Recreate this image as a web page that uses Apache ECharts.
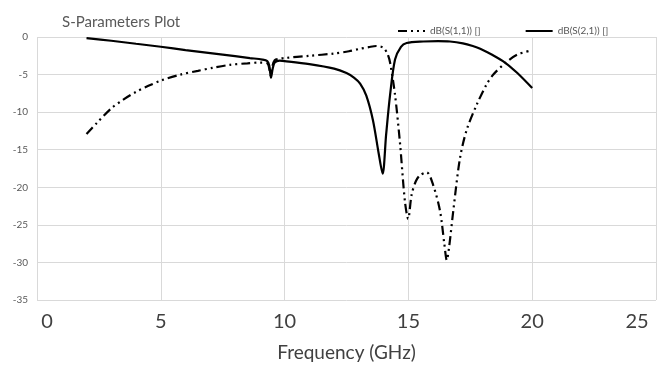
<!DOCTYPE html>
<html>
<head>
<meta charset="utf-8">
<script src="https://cdn.jsdelivr.net/npm/echarts@6/dist/echarts.min.js"></script>
<style>
html,body{margin:0;padding:0;background:#fff;}
#chart{width:659px;height:367px;}
</style>
</head>
<body>
<div id="chart"></div>
<script>
// S11 (dash-dot-dot)
var s11Freq = [2.0, 2.4, 3.0, 3.5, 4.0, 4.5, 5.0, 5.8, 6.5, 7.1, 7.8, 8.5, 9.0, 9.3, 9.4, 9.45, 9.5, 9.6, 9.8, 10.0, 11.0, 12.0, 12.6, 13.0, 13.4, 13.7, 13.9, 14.0, 14.15, 14.26, 14.46, 14.66, 14.86, 14.99, 15.13, 15.3, 15.47, 15.74, 16.0, 16.28, 16.45, 16.55, 16.65, 16.81, 17.08, 17.35, 17.76, 18.16, 18.43, 18.9, 19.4, 20.0];
var s11Db   = [-12.9, -11.5, -9.5, -8.3, -7.3, -6.5, -5.8, -5.0, -4.5, -4.1, -3.7, -3.5, -3.4, -3.5, -4.5, -5.2, -4.0, -3.1, -2.9, -2.8, -2.5, -2.2, -1.9, -1.6, -1.35, -1.2, -1.3, -1.45, -2.2, -3.4, -7.7, -14.1, -21.9, -24.2, -21.0, -19.2, -18.4, -18.0, -19.7, -23.2, -27.5, -29.7, -27.8, -23.2, -16.2, -12.4, -9.0, -6.3, -5.0, -3.5, -2.35, -1.75];
// S21 (solid)
var s21Freq = [2.0, 3.0, 4.0, 5.0, 6.0, 7.0, 8.0, 8.6, 9.1, 9.3, 9.38, 9.45, 9.52, 9.6, 9.8, 10.0, 11.0, 12.0, 12.5, 12.8, 13.05, 13.3, 13.57, 13.8, 13.96, 14.1, 14.26, 14.46, 14.7, 14.93, 15.6, 16.2, 16.68, 17.2, 17.6, 17.9, 18.4, 18.9, 19.4, 20.0];
var s21Db   = [-0.15, -0.5, -0.9, -1.3, -1.75, -2.15, -2.55, -2.8, -3.0, -3.2, -3.8, -5.4, -4.2, -3.4, -3.15, -3.2, -3.6, -4.2, -4.8, -5.4, -6.2, -7.8, -11.1, -15.5, -18.2, -13.0, -7.7, -3.0, -1.3, -0.8, -0.6, -0.55, -0.6, -0.85, -1.2, -1.55, -2.4, -3.4, -4.8, -6.8];

var seriesNames = ['dB(S(1,1)) []', 'dB(S(2,1)) []'];
var xTicks = [0, 5, 10, 15, 20, 25];
var yTicks = [0, -5, -10, -15, -20, -25, -30, -35];

function pairs(xs, ys) { return xs.map(function (x, i) { return [x, ys[i]]; }); }

var FONT = 'Lato';
var chart = echarts.init(document.getElementById('chart'), null, {renderer: 'canvas'});
chart.setOption({
  animation: false,
  backgroundColor: '#ffffff',
  title: {
    text: 'S-Parameters Plot',
    left: 57, top: 10,
    textStyle: {fontFamily: FONT, fontSize: 15, fontWeight: 'normal', color: '#595959'}
  },
  legend: {
    left: 392, top: 21,
    itemWidth: 27, itemHeight: 10, itemGap: 44,
    itemStyle: {opacity: 0},
    textStyle: {fontFamily: FONT, fontSize: 10, color: '#595959'},
    data: seriesNames
  },
  grid: {left: 37, right: 3, top: 37, bottom: 58, containLabel: false},
  xAxis: {
    type: 'value', min: xTicks[0], max: xTicks[xTicks.length - 1], interval: 5,
    name: 'Frequency (GHz)', nameLocation: 'middle', nameGap: 43,
    nameTextStyle: {fontFamily: FONT, fontSize: 19, color: '#404040'},
    axisLine: {show: false}, axisTick: {show: false},
    axisLabel: {
      fontFamily: FONT, fontSize: 20, color: '#404040', margin: 12,
      formatter: function (v) {
        if (v === xTicks[0]) return '{first|' + v + '}';
        if (v === xTicks[xTicks.length - 1]) return '{last|' + v + '}';
        return String(v);
      },
      rich: {
        first: {fontFamily: FONT, fontSize: 20, color: '#404040', padding: [0, 0, 0, 20]},
        last: {fontFamily: FONT, fontSize: 20, color: '#404040', padding: [0, 38, 0, 0]}
      }
    },
    splitLine: {show: true, lineStyle: {color: '#d9d9d9', width: 1}}
  },
  yAxis: {
    type: 'value', min: yTicks[yTicks.length - 1], max: yTicks[0], interval: 5,
    axisLine: {show: false}, axisTick: {show: false},
    axisLabel: {fontFamily: FONT, fontSize: 10, color: '#595959', margin: 9},
    splitLine: {show: true, lineStyle: {color: '#d9d9d9', width: 1}}
  },
  series: [
    {
      name: seriesNames[0], type: 'line', data: pairs(s11Freq, s11Db),
      symbol: 'none', smooth: 0.3,
      lineStyle: {color: '#000000', width: 2.2, type: [9, 4, 2, 4, 2, 4]},
      itemStyle: {color: '#000000'}
    },
    {
      name: seriesNames[1], type: 'line', data: pairs(s21Freq, s21Db),
      symbol: 'none', smooth: 0.3,
      lineStyle: {color: '#000000', width: 2.2, type: 'solid'},
      itemStyle: {color: '#000000'}
    }
  ]
});
</script>
</body>
</html>
